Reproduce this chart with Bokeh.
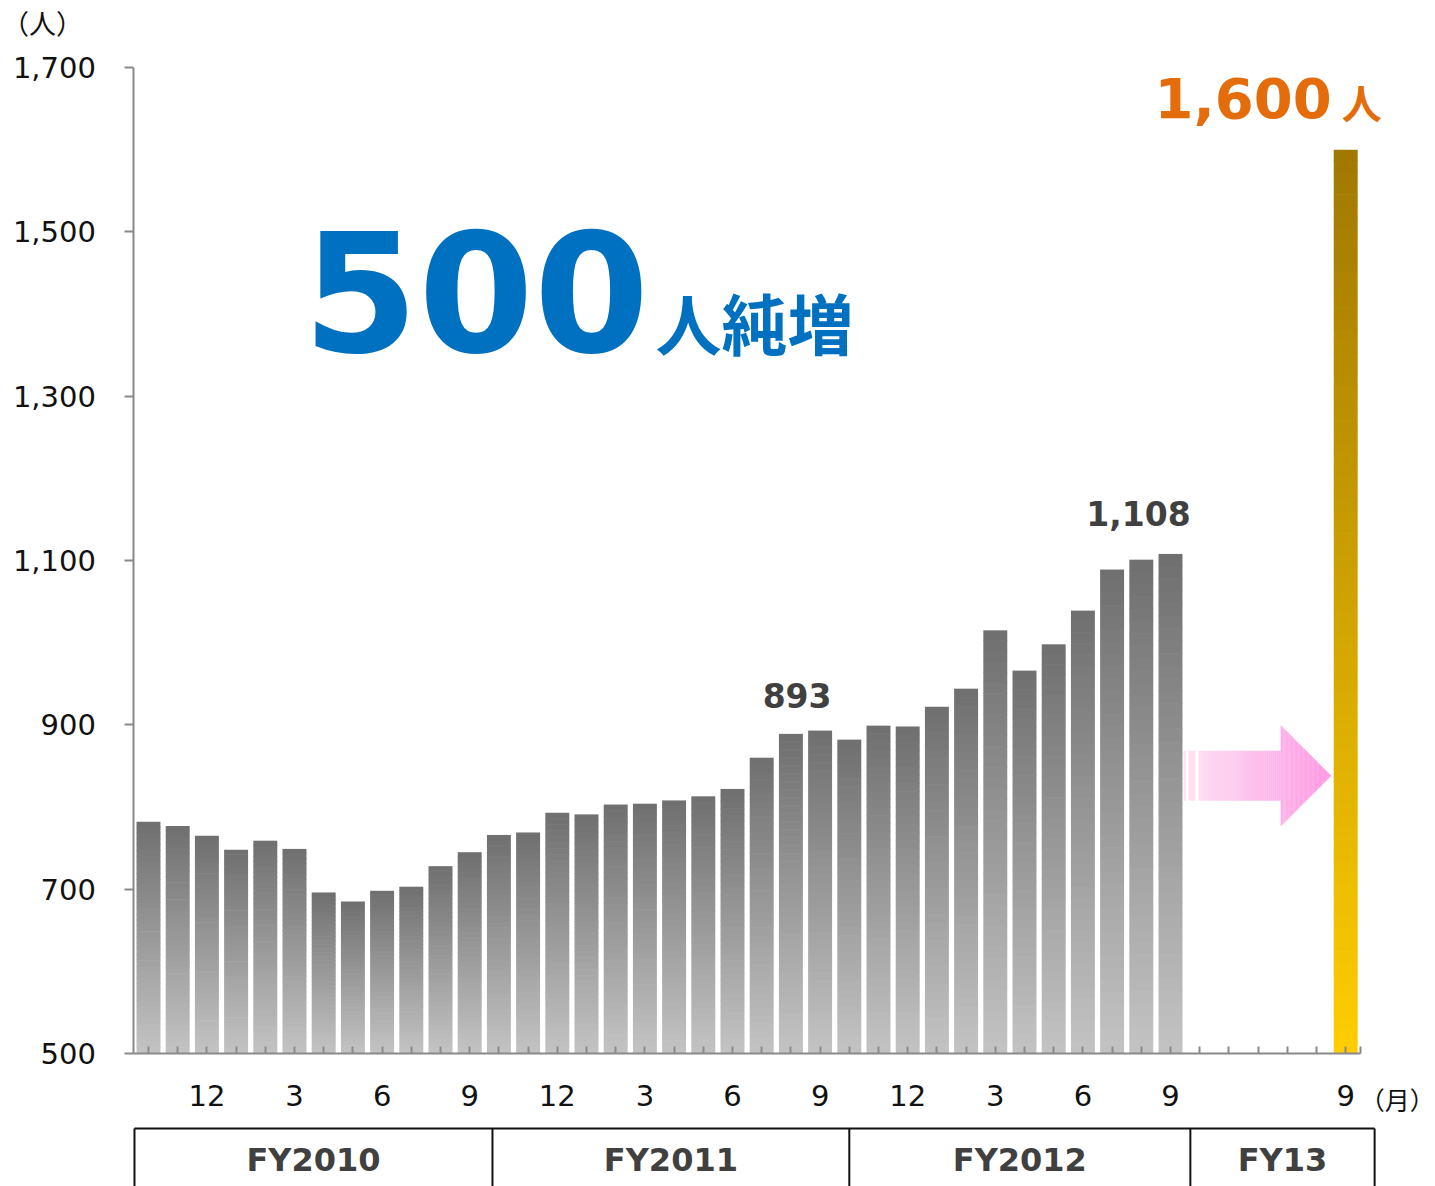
from bokeh.plotting import figure
from bokeh.models import Range1d, FixedTicker, LinearAxis, NumeralTickFormatter
from bokeh.embed import file_html
from bokeh.resources import INLINE
from bokeh.core.properties import value

# ---------------- data ----------------
headcount = [782, 777, 765, 748, 759, 749, 696, 685, 698, 703, 728, 745,
             766, 769, 793, 791, 803, 804, 808, 813, 822, 860, 889, 893,
             882, 899, 898, 922, 944, 1015, 966, 998, 1039, 1089, 1101, 1108]
target_index = 41
target_value = 1600
annot_idx = [23, 35]
month_tick_idx = [2, 5, 8, 11, 14, 17, 20, 23, 26, 29, 32, 35, 41]
month_tick_txt = ["12", "3", "6", "9", "12", "3", "6", "9", "12", "3", "6", "9", "9"]
fy_names = ["FY2010", "FY2011", "FY2012", "FY13"]
fy_bounds = [-0.48, 11.78, 24.0, 35.68, 41.99]
y_ticks = [500, 700, 900, 1100, 1300, 1500, 1700]
Y0 = 500


def hx(c):
    return tuple(int(c[i:i + 2], 16) for i in (1, 3, 5))


def lerp(c1, c2, t):
    a, b = hx(c1), hx(c2)
    return "#%02x%02x%02x" % tuple(int(round(a[i] + (b[i] - a[i]) * t)) for i in range(3))


W_BAR = 0.82
p = figure(width=1435, height=1186, x_range=Range1d(-5.0685, 44.0753), y_range=Range1d(338.13, 1781.54),
           output_backend="svg", toolbar_location=None, x_axis_location=None, y_axis_location=None,
           min_border_left=0, min_border_right=0, min_border_top=0, min_border_bottom=0)
p.outline_line_color = None
p.grid.visible = False
p.background_fill_color = "white"

# gradient gray bars
N = 40
L, R, T, B, C = [], [], [], [], []
for i, v in enumerate(headcount):
    for k in range(N):
        t0, t1 = k / N, (k + 1) / N
        top = v - (v - Y0) * t0
        bot = v - (v - Y0) * t1
        L.append(i - W_BAR / 2); R.append(i + W_BAR / 2)
        T.append(top if k == 0 else top + 0.8); B.append(bot)
        C.append(lerp("#6f6f6f", "#c3c3c3", (t0 + t1) / 2))
p.quad(left=L, right=R, top=T, bottom=B, fill_color=C, line_color=None)

# gradient gold bar
NG = 80
L, R, T, B, C = [], [], [], [], []
for k in range(NG):
    t0, t1 = k / NG, (k + 1) / NG
    top = target_value - (target_value - Y0) * t0
    bot = target_value - (target_value - Y0) * t1
    L.append(target_index - W_BAR / 2); R.append(target_index + W_BAR / 2)
    T.append(top if k == 0 else top + 0.8); B.append(bot)
    C.append(lerp("#a07800", "#ffcd00", (t0 + t1) / 2))
p.quad(left=L, right=R, top=T, bottom=B, fill_color=C, line_color=None)

# pink arrow (from last actual bar toward the target bar)
last = len(headcount) - 1
ax0 = last + 0.45
ax_solid = last + 0.96
ax_head = last + 3.77
ax_tip = target_index - 0.5
ay = 838
sh, hh = 30.4, 61.5
c_left, c_right = "#fde4f5", "#ff98e2"


def acol(x):
    return lerp(c_left, c_right, (x - ax0) / (ax_tip - ax0))


stripes = [(ax0, ax0 + 0.08), (ax0 + 0.17, ax0 + 0.41)]
L, R, T, B, C = [], [], [], [], []
for a, b in stripes:
    L.append(a); R.append(b); T.append(ay + sh); B.append(ay - sh); C.append(acol((a + b) / 2))
M = 40
for k in range(M):
    a = ax_solid + (ax_head - ax_solid) * k / M
    b = ax_solid + (ax_head - ax_solid) * (k + 1) / M
    L.append(a); R.append(b + 0.01); T.append(ay + sh); B.append(ay - sh); C.append(acol((a + b) / 2))
p.quad(left=L, right=R, top=T, bottom=B, fill_color=C, line_color=None)
xs, ys, cs = [], [], []
for k in range(M):
    a = ax_head + (ax_tip - ax_head) * k / M
    b = ax_head + (ax_tip - ax_head) * (k + 1) / M
    ha = hh * (ax_tip - a) / (ax_tip - ax_head)
    hb = hh * (ax_tip - b) / (ax_tip - ax_head)
    xs.append([a, b + 0.01, b + 0.01, a]); ys.append([ay + ha, ay + hb, ay - hb, ay - ha]); cs.append(acol((a + b) / 2))
p.patches(xs=xs, ys=ys, fill_color=cs, line_color=None)

# axes (fixed inside the canvas, limited by bounds)
xa = LinearAxis(fixed_location=Y0, bounds=(-0.5, 41.5))
xa.ticker = FixedTicker(ticks=list(range(42)) + [41.5])
ov = {i: "" for i in range(42)}
ov[41.5] = ""
for i, t in zip(month_tick_idx, month_tick_txt):
    ov[i] = t
xa.major_label_overrides = ov
xa.major_tick_in = 7
xa.major_tick_out = 0
xa.minor_tick_line_color = None
xa.axis_line_color = "#8a8a8a"
xa.axis_line_width = 2
xa.major_tick_line_color = "#8a8a8a"
xa.major_tick_line_width = 2
xa.major_label_standoff = 32
xa.major_label_text_font = "DejaVu Sans"
xa.major_label_text_font_size = "29px"
xa.major_label_text_color = "#111111"
p.add_layout(xa, "below")

ya = LinearAxis(fixed_location=-0.5, bounds=(500, 1700))
ya.ticker = FixedTicker(ticks=y_ticks)
ya.formatter = NumeralTickFormatter(format="0,0")
ya.major_tick_in = 0
ya.major_tick_out = 9
ya.minor_tick_line_color = None
ya.axis_line_color = "#8a8a8a"
ya.axis_line_width = 2
ya.major_tick_line_color = "#8a8a8a"
ya.major_tick_line_width = 2
ya.major_label_standoff = 29
ya.major_label_text_font = "DejaVu Sans"
ya.major_label_text_font_size = "29px"
ya.major_label_text_color = "#111111"
p.add_layout(ya, "left")

# value annotations
for idx, dx, dy in zip(annot_idx, [-23, -32], [-35.5, -40.5]):
    p.text(x=[idx], y=[headcount[idx]], text=["{:,}".format(headcount[idx])],
           x_offset=dx, y_offset=dy, text_align="center", text_baseline="middle",
           text_font=value("DejaVu Sans"), text_font_style="bold", text_font_size="33px",
           text_color="#404040")

p.text(x=[target_index], y=[target_value], text=["{:,}".format(target_value)],
       x_offset=-14, y_offset=-52, text_align="right", text_baseline="middle",
       text_font=value("DejaVu Sans"), text_font_style="bold", text_font_size="56px",
       text_color="#e46c0a")
p.text(x=[target_index], y=[target_value], text=["人"],
       x_offset=-4, y_offset=-48, text_align="left", text_baseline="middle",
       text_font=value("Noto Sans CJK JP"), text_font_style="bold", text_font_size="40px",
       text_color="#e46c0a")

# headline
p.text(x=[5.28], y=[1427.4], text=["500"], text_align="left", text_baseline="middle",
       text_font=value("DejaVu Sans"), text_font_style="bold", text_font_size="166px",
       text_color="#0070c0")
p.text(x=[17.36], y=[1392], text=["人純増"], text_align="left", text_baseline="middle",
       text_font=value("Noto Sans CJK JP"), text_font_style="bold", text_font_size="66px",
       text_color="#0070c0")

# unit labels
p.text(x=[-3.63], y=[1754.8], text=["（人）"], text_align="center", text_baseline="middle",
       text_font=value("Noto Sans CJK JP"), text_font_size="27px", text_color="#111111")
p.text(x=[44.05], y=[445.2], text=["（月）"], text_align="right", text_baseline="middle",
       text_font=value("Noto Sans CJK JP"), text_font_size="25px", text_color="#111111")

# fiscal year band
fy_top = 408.7
p.segment(x0=[fy_bounds[0]], y0=[fy_top], x1=[fy_bounds[-1]], y1=[fy_top], line_color="#111111", line_width=2)
p.segment(x0=fy_bounds, y0=[300] * len(fy_bounds), x1=fy_bounds, y1=[fy_top] * len(fy_bounds),
          line_color="#111111", line_width=2)
mids = [(a + b) / 2 for a, b in zip(fy_bounds[:-1], fy_bounds[1:])]
p.text(x=mids, y=[369.8] * len(mids), text=fy_names, text_align="center", text_baseline="middle",
       text_font=value("DejaVu Sans"), text_font_style="bold", text_font_size="32px",
       text_color="#404040")

open("out.html", "w").write(file_html(p, INLINE))
